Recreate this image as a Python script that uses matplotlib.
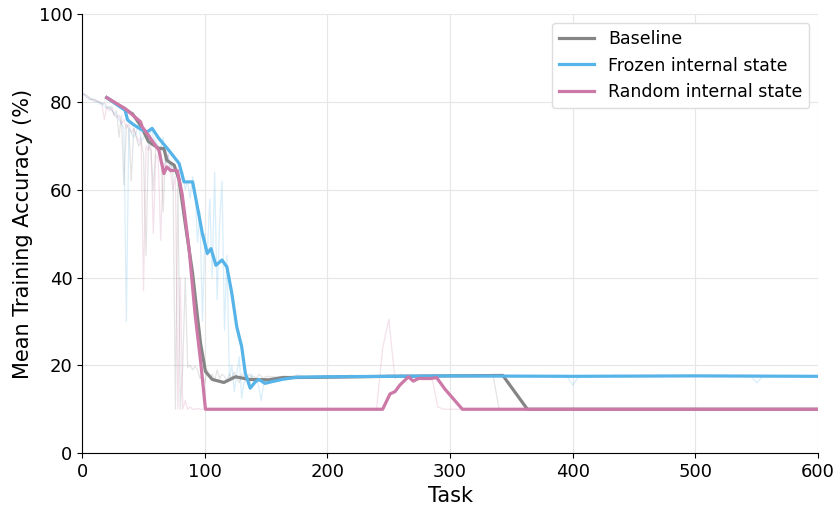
import numpy as np
import matplotlib
matplotlib.use("Agg")
import matplotlib.pyplot as plt

# ---------------- data ----------------
SERIES_NAMES = ["Baseline", "Frozen internal state", "Random internal state"]
COLORS = ["#858585", "#56B4E9", "#CC79A7"]

# raw (faint) curves, early phase: tasks 0..150 step 2
RAW_EARLY_TASKS = list(range(0, 152, 2))
RAW_EARLY_BASELINE = [
    82, 81.8, 81.5, 81, 80.5, 80.7, 80.2, 80, 79.5, 79.8, 79,
    78.5, 79, 77, 78, 72, 77, 61, 75, 74, 62,
    74, 72, 70, 71, 68, 45, 70, 69, 60, 70,
    69, 70, 55, 69, 67, 66, 64, 10, 62, 10,
    20, 40, 19.5, 20, 19, 19.8, 19, 17, 18, 16,
    19, 17, 18, 16.5, 19, 17, 18, 17.5, 16.5, 18,
    17, 18.5, 17, 16, 18, 17.5, 17, 18, 17.5, 17.5,
    17, 18, 17.5, 17, 17.5,
]
RAW_EARLY_FROZEN = [
    82, 81.5, 81, 80.5, 80.8, 80, 80.3, 79.5, 79.8, 79, 78.5,
    79, 78, 77.5, 77, 76, 75, 74, 30, 74, 73,
    72, 73, 75, 71, 72, 73, 70, 74, 72, 71,
    70, 69, 72, 66, 68, 64, 66, 65, 63, 62,
    64, 60, 62, 58, 63, 60, 48, 55, 30, 50,
    45, 58, 40, 64, 35, 52, 62, 28, 45, 17,
    20, 14, 18, 22, 12.5, 16, 17, 15, 18, 16,
    17, 15, 12, 16, 17,
]
RAW_EARLY_RANDOM = [
    82, 81.6, 81.2, 80.8, 80.4, 80.5, 80, 80.2, 79.5, 76, 79,
    78, 78.5, 77, 76.5, 77, 75, 76, 74, 75, 73,
    74, 72.5, 71, 72, 37, 70, 69, 71, 50, 68,
    67, 48.5, 66, 65, 68, 64, 60, 63, 10, 40,
    10, 12, 10, 10.5, 10, 10, 10.2, 10, 10, 10,
    10, 10, 10, 10, 10, 10, 10, 10, 10, 10,
    10, 10, 10, 10, 10, 10, 10, 10, 10, 10,
    10, 10, 10, 10, 10,
]

# raw (faint) curves, late phase: tasks 160..600 step 5
RAW_LATE_TASKS = list(range(160, 601, 5))
RAW_LATE_BASELINE = (
    [17.3, 17.6, 17.4, 17.8, 17.5, 17.2, 17.6, 17.4, 17.7, 17.5,
     17.3, 17.6, 17.8, 17.4, 17.5, 17.7, 17.6, 17.4, 17.8, 17.5,
     17.6, 17.7, 17.4, 17.6, 17.8, 17.5, 17.7, 17.6, 17.8, 17.6,
     17.7, 17.5, 17.8, 17.7, 17.6, 17.7, 10]
    + [10] * 52
)
RAW_LATE_FROZEN = [
    16.9, 17.2, 17.5, 17.1, 17.3, 17.4, 17.0, 17.3, 17.5, 17.2,
    17.4, 17.6, 17.3, 17.5, 17.4, 17.6, 17.3, 17.5, 17.7, 17.4,
    17.6, 17.5, 17.3, 17.6, 17.5, 17.7, 17.4, 17.6, 17.5, 17.6,
    17.4, 17.6, 17.5, 17.7, 17.5, 17.6, 17.4, 17.6, 17.5, 17.3,
    17.6, 17.5, 17.4, 17.6, 17.5, 17.3, 17.5, 17.6, 15.5, 17.5,
    17.6, 17.4, 17.7, 17.5, 17.6, 17.8, 17.5, 17.7, 17.6, 17.5,
    17.7, 17.6, 17.8, 17.6, 17.5, 17.7, 17.6, 17.8, 17.5, 17.7,
    17.6, 17.5, 17.7, 17.6, 17.4, 17.6, 17.5, 17.6, 16.0, 17.5,
    17.6, 17.4, 17.6, 17.5, 17.7, 17.5, 17.6, 17.5, 17.6,
]
RAW_LATE_RANDOM = (
    [10] * 17
    + [24, 30.5, 17, 18, 17, 16.5, 17.5, 17, 17.5, 10.5, 10]
    + [10] * 61
)

# smoothed (bold) curves, read as keypoints
SM_BASELINE_T = [20, 30, 41, 48, 54, 62.5, 66.6, 69, 75, 79, 84, 90, 94, 96.5, 100.5,
                 106, 115.5, 125, 136, 152, 163, 200, 250, 300, 343, 363, 600]
SM_BASELINE_V = [81, 79.2, 77.3, 74.5, 71, 69.4, 69.4, 66.7, 65.6, 62.2, 52.3, 41, 31, 25,
                 18.6, 16.8, 16.1, 17.4, 16.8, 16.7, 17.2, 17.3, 17.5, 17.6, 17.7, 10, 10]

SM_FROZEN_T = [20, 35, 37, 42, 49, 53, 57, 62.5, 70.6, 79, 83, 90, 94, 98, 102, 105,
               109, 114, 118, 122, 126, 130, 133, 137, 141, 144, 149, 155, 163, 175,
               200, 300, 400, 500, 600]
SM_FROZEN_V = [81, 78.1, 75.9, 74.8, 73.6, 73.2, 74, 71.7, 69, 66, 61.8, 61.8, 56, 50,
               45.5, 46.6, 42.8, 44, 42.4, 36.4, 28.8, 24.3, 18.2, 14.8, 16.2, 16.8, 15.9,
               16.3, 16.8, 17.3, 17.4, 17.6, 17.5, 17.6, 17.5]

SM_RANDOM_T = [20, 35, 47.5, 49, 54, 62.5, 66.6, 69, 72, 77.5, 81.5, 87, 92, 96.5, 100.5,
               200, 245, 251, 255, 259, 266, 270, 274, 284, 289, 296, 310, 600]
SM_RANDOM_V = [81, 78.5, 75.5, 74.3, 72.4, 69, 63.7, 65.2, 64.4, 64.4, 59, 46.9, 31.7, 21,
               10, 10, 10, 13.5, 14, 15.5, 17.4, 16.4, 17, 17, 17.2, 14.5, 10, 10]

X_TICKS = [0, 100, 200, 300, 400, 500, 600]
Y_TICKS = [0, 20, 40, 60, 80, 100]

# ---------------- plot ----------------
fig = plt.figure(figsize=(8.39, 5.08), dpi=100)
ax = fig.add_axes([0.098, 0.108, 0.877, 0.864])

raw_sets = [
    (RAW_EARLY_BASELINE, RAW_LATE_BASELINE),
    (RAW_EARLY_FROZEN, RAW_LATE_FROZEN),
    (RAW_EARLY_RANDOM, RAW_LATE_RANDOM),
]
for (early, late), c in zip(raw_sets, COLORS):
    ax.plot(RAW_EARLY_TASKS + RAW_LATE_TASKS, list(early) + list(late),
            color=c, alpha=0.22, lw=0.9, zorder=2)

smooth_sets = [
    (SM_BASELINE_T, SM_BASELINE_V),
    (SM_FROZEN_T, SM_FROZEN_V),
    (SM_RANDOM_T, SM_RANDOM_V),
]
for (t, v), c, name in zip(smooth_sets, COLORS, SERIES_NAMES):
    ax.plot(t, v, color=c, lw=2.3, label=name, zorder=3)

ax.set_xlim(0, 600)
ax.set_ylim(0, 100)
ax.set_xticks(X_TICKS)
ax.set_yticks(Y_TICKS)
ax.tick_params(labelsize=13)
ax.grid(True, color="#e6e6e6", lw=0.8)
ax.set_axisbelow(True)
for s in ["top", "right"]:
    ax.spines[s].set_visible(False)
ax.set_xlabel("Task", fontsize=15)
ax.set_ylabel("Mean Training Accuracy (%)", fontsize=15)
leg = ax.legend(loc="upper right", fontsize=12.5, frameon=True, framealpha=1.0,
                edgecolor="#dddddd", borderaxespad=0.5)

fig.savefig("out.png", dpi=100)
